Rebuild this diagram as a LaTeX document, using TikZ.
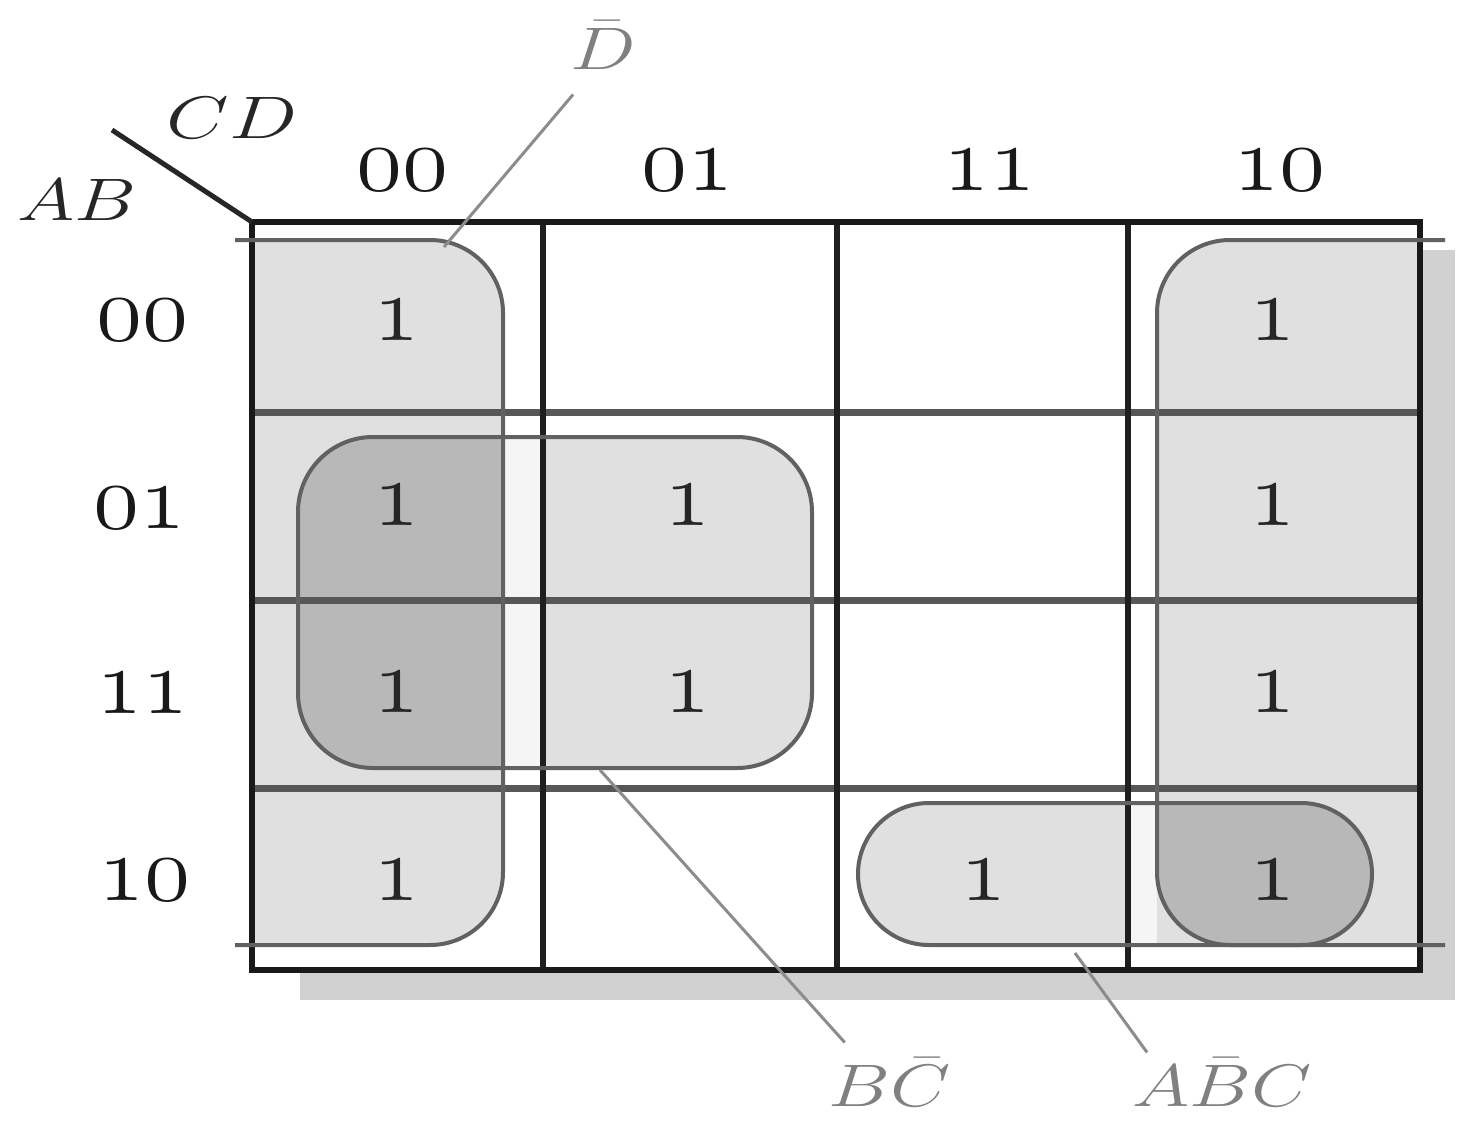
\RequirePackage{fix-cm}
\documentclass[tikz,border=0pt]{standalone}
\usepackage{graphicx}
% old-style figures taken straight from the math italic font
\newcommand\osfig[1]{{\usefont{OML}{cmm}{m}{it}#1}}
\begin{document}
\begin{tikzpicture}[x=1pt,y=-1pt,
  num/.style={font=\fontsize{94}{100}\selectfont, text=black!90, inner sep=0pt},
  one/.style={font=\fontsize{94}{100}\selectfont, text=black!85, inner sep=0pt},
  var/.style={font=\fontsize{60}{70}\selectfont, text=black!85, inner sep=0pt},
  tag/.style={font=\fontsize{60}{70}\selectfont, text=black!50, inner sep=0pt},
  frame/.style={line width=6pt, draw=black!90},
  vrule/.style={line width=5.5pt, draw=black!88},
  hrule/.style={line width=7pt, draw=black!66},
  loopline/.style={line width=4pt, draw=black!62},
  leader/.style={line width=3pt, draw=black!45},
  light/.style={fill=black!12},
  dark/.style={fill=black!28},
  halo/.style={fill=black!4},
]
\useasboundingbox (0,0) rectangle (1459,1124);
\fill[white] (0,0) rectangle (1459,1124);

% drop shadow and the white map area
\fill[black!18] (300,250) rectangle (1455,1000);
\fill[white] (252,222) rectangle (1420,970);

% light fills of the groups
\begin{scope}
  \clip (252,222) rectangle (1420,970);
  \fill[light, rounded corners=73pt] (160,240) rectangle (503,945);
  \fill[light, rounded corners=73pt] (1157,240) rectangle (1520,945);
  \fill[light, rounded corners=75pt] (298,437) rectangle (812,768);
  \fill[light, rounded corners=71pt] (858,803) rectangle (1372,945);
\end{scope}

% overlaps of two groups
\begin{scope}
  \clip[rounded corners=73pt] (160,240) rectangle (503,945);
  \fill[dark, rounded corners=75pt] (298,437) rectangle (812,768);
\end{scope}
\begin{scope}
  \clip[rounded corners=73pt] (1157,240) rectangle (1520,945);
  \fill[dark, rounded corners=71pt] (858,803) rectangle (1372,945);
\end{scope}

% pale strips between a group edge and the next grid line
\begin{scope}
  \clip[rounded corners=75pt] (298,437) rectangle (812,768);
  \fill[halo] (503,400) rectangle (543,800);
\end{scope}
\begin{scope}
  \clip[rounded corners=71pt] (858,803) rectangle (1372,945);
  \fill[halo] (1128,790) rectangle (1157,960);
\end{scope}

% grid
\foreach \y in {412,600,788} \draw[hrule] (252,\y) -- (1420,\y);
\foreach \x in {543,837,1128} \draw[vrule] (\x,222) -- (\x,970);
\draw[frame] (252,222) rectangle (1420,970);

% group outlines
\begin{scope}
  \clip (235,0) rectangle (1459,1124);
  \draw[loopline, rounded corners=73pt] (160,240) rectangle (503,945);
\end{scope}
\begin{scope}
  \clip (0,0) rectangle (1445,1124);
  \draw[loopline, rounded corners=73pt] (1157,240) rectangle (1520,945);
\end{scope}
\draw[loopline, rounded corners=75pt] (298,437) rectangle (812,768);
\draw[loopline, rounded corners=71pt] (858,803) rectangle (1372,945);

% corner diagonal and variable names
\coordinate (corner) at (252,222);
\coordinate (diagend) at (112,130);
\draw[line width=5pt, draw=black!85] (diagend) -- (corner);
\node[var] (cdlab) at (232,118) {\scalebox{1.35}[1]{$CD$}};
\node[var] (ablab) at (77,200) {\scalebox{1.3}[1]{$AB$}};

% column and row codes
\foreach \x/\t/\n in {403/00/a, 688/01/b, 990/11/c, 1280/10/d}
  \node[num] (col\n) at (\x,170) {\osfig{\t}};
\foreach \x/\y/\t/\n in {143/320/00/a, 140/508/01/b, 143/693/11/c, 145/880/10/d}
  \node[num] (row\n) at (\x,\y) {\osfig{\t}};

% cell entries
\foreach \x/\y/\n in {397/320/a, 397/505/b, 397/692/c, 397/880/d,
                      688/505/e, 688/692/f, 983/880/g,
                      1272/320/h, 1272/505/i, 1272/692/j, 1272/880/k}
  \node[one] (cell\n) at (\x,\y) {\osfig{1}};

% group names with leaders
\node[tag] (dbar) at (603,45) {\scalebox{1.3}[1]{$\bar D$}};
\node[tag] (bcbar) at (890,1082) {\scalebox{1.3}[1]{$B\bar C$}};
\node[tag] (abcbar) at (1222,1082) {\scalebox{1.3}[1]{$A\bar B C$}};
\coordinate (dtip) at (444,247);
\coordinate (bctip) at (600,770);
\coordinate (abctip) at (1075,953);
\draw[leader] ([shift={(3,25)}]dbar.south west) -- (dtip);
\draw[leader] ([shift={(16,-15)}]bcbar.north west) -- (bctip);
\draw[leader] ([shift={(15,-5)}]abcbar.north west) -- (abctip);
\end{tikzpicture}
\end{document}
